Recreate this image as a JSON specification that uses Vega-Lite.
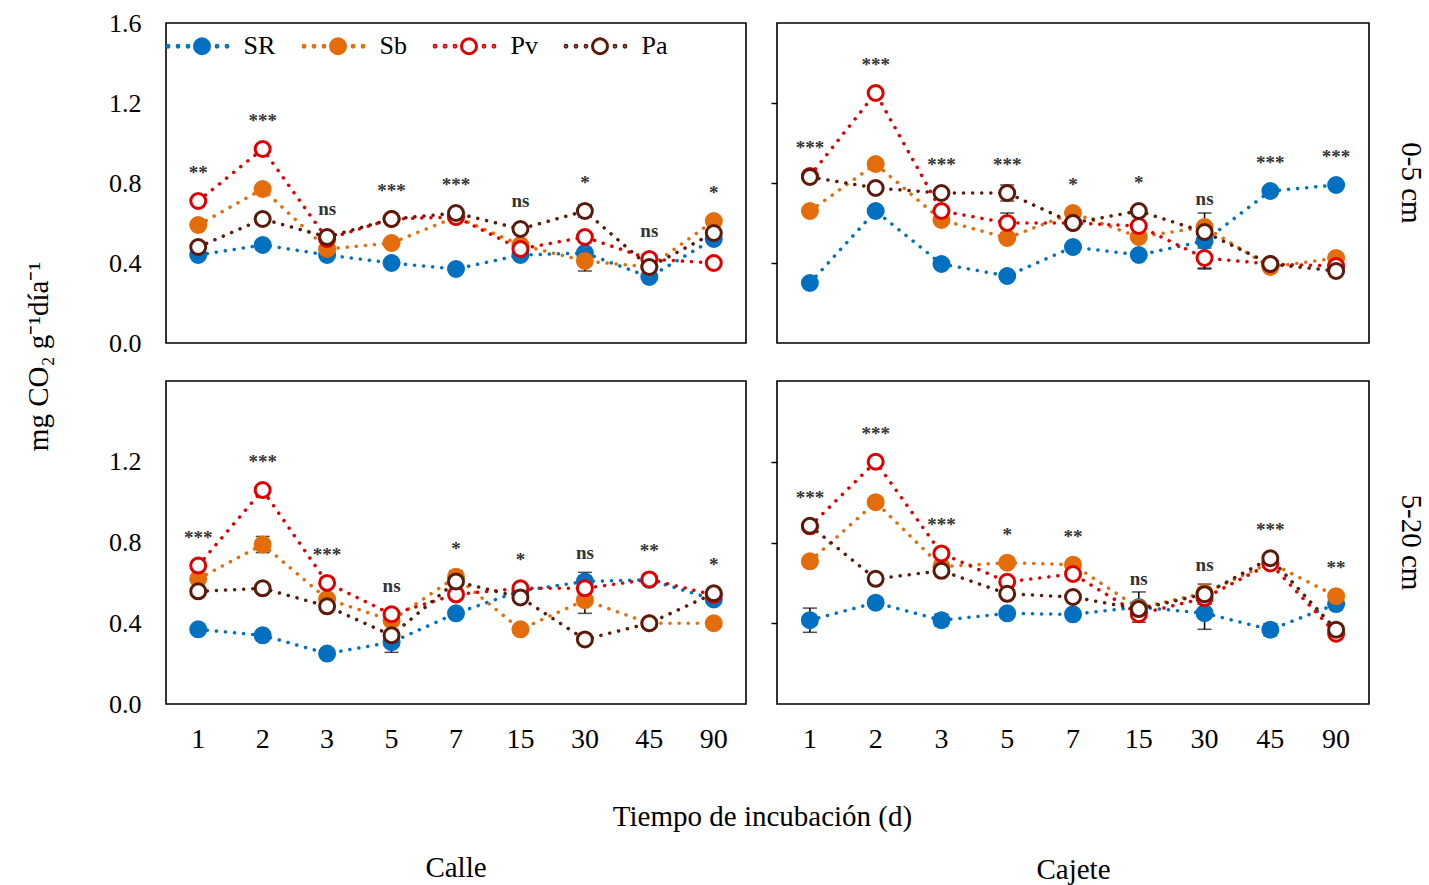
{
  "$schema": "https://vega.github.io/schema/vega-lite/v6.json",
  "padding": {"left": 23, "top": 9, "right": 2, "bottom": 2},
  "background": "white",
  "datasets": {
    "calle05": [
      {"day":1,"series":"SR","value":0.44,"err":0,"sig":"**"},{"day":1,"series":"Sb","value":0.59,"err":0,"sig":"**"},{"day":1,"series":"Pv","value":0.71,"err":0,"sig":"**"},{"day":1,"series":"Pa","value":0.48,"err":0,"sig":"**"},
      {"day":2,"series":"SR","value":0.49,"err":0,"sig":"***"},{"day":2,"series":"Sb","value":0.77,"err":0,"sig":"***"},{"day":2,"series":"Pv","value":0.97,"err":0,"sig":"***"},{"day":2,"series":"Pa","value":0.62,"err":0,"sig":"***"},
      {"day":3,"series":"SR","value":0.44,"err":0,"sig":"ns"},{"day":3,"series":"Sb","value":0.47,"err":0,"sig":"ns"},{"day":3,"series":"Pv","value":0.52,"err":0,"sig":"ns"},{"day":3,"series":"Pa","value":0.53,"err":0,"sig":"ns"},
      {"day":5,"series":"SR","value":0.40,"err":0,"sig":"***"},{"day":5,"series":"Sb","value":0.50,"err":0,"sig":"***"},{"day":5,"series":"Pv","value":0.62,"err":0,"sig":"***"},{"day":5,"series":"Pa","value":0.62,"err":0,"sig":"***"},
      {"day":7,"series":"SR","value":0.37,"err":0,"sig":"***"},{"day":7,"series":"Sb","value":0.63,"err":0,"sig":"***"},{"day":7,"series":"Pv","value":0.63,"err":0,"sig":"***"},{"day":7,"series":"Pa","value":0.65,"err":0,"sig":"***"},
      {"day":15,"series":"SR","value":0.44,"err":0,"sig":"ns"},{"day":15,"series":"Sb","value":0.49,"err":0,"sig":"ns"},{"day":15,"series":"Pv","value":0.47,"err":0,"sig":"ns"},{"day":15,"series":"Pa","value":0.57,"err":0,"sig":"ns"},
      {"day":30,"series":"SR","value":0.45,"err":0,"sig":"*"},{"day":30,"series":"Sb","value":0.41,"err":0.05,"sig":"*"},{"day":30,"series":"Pv","value":0.53,"err":0,"sig":"*"},{"day":30,"series":"Pa","value":0.66,"err":0.03,"sig":"*"},
      {"day":45,"series":"SR","value":0.33,"err":0,"sig":"ns"},{"day":45,"series":"Sb","value":0.38,"err":0,"sig":"ns"},{"day":45,"series":"Pv","value":0.42,"err":0,"sig":"ns"},{"day":45,"series":"Pa","value":0.38,"err":0,"sig":"ns"},
      {"day":90,"series":"SR","value":0.52,"err":0,"sig":"*"},{"day":90,"series":"Sb","value":0.61,"err":0.02,"sig":"*"},{"day":90,"series":"Pv","value":0.40,"err":0,"sig":"*"},{"day":90,"series":"Pa","value":0.55,"err":0,"sig":"*"}
    ],
    "cajete05": [
      {"day":1,"series":"SR","value":0.30,"err":0,"sig":"***"},{"day":1,"series":"Sb","value":0.66,"err":0,"sig":"***"},{"day":1,"series":"Pv","value":0.835,"err":0,"sig":"***"},{"day":1,"series":"Pa","value":0.83,"err":0,"sig":"***"},
      {"day":2,"series":"SR","value":0.66,"err":0,"sig":"***"},{"day":2,"series":"Sb","value":0.895,"err":0,"sig":"***"},{"day":2,"series":"Pv","value":1.25,"err":0,"sig":"***"},{"day":2,"series":"Pa","value":0.775,"err":0,"sig":"***"},
      {"day":3,"series":"SR","value":0.395,"err":0,"sig":"***"},{"day":3,"series":"Sb","value":0.615,"err":0,"sig":"***"},{"day":3,"series":"Pv","value":0.66,"err":0,"sig":"***"},{"day":3,"series":"Pa","value":0.75,"err":0,"sig":"***"},
      {"day":5,"series":"SR","value":0.335,"err":0,"sig":"***"},{"day":5,"series":"Sb","value":0.525,"err":0,"sig":"***"},{"day":5,"series":"Pv","value":0.60,"err":0.05,"sig":"***"},{"day":5,"series":"Pa","value":0.75,"err":0.04,"sig":"***"},
      {"day":7,"series":"SR","value":0.48,"err":0,"sig":"*"},{"day":7,"series":"Sb","value":0.65,"err":0,"sig":"*"},{"day":7,"series":"Pv","value":0.60,"err":0,"sig":"*"},{"day":7,"series":"Pa","value":0.60,"err":0,"sig":"*"},
      {"day":15,"series":"SR","value":0.44,"err":0,"sig":"*"},{"day":15,"series":"Sb","value":0.53,"err":0,"sig":"*"},{"day":15,"series":"Pv","value":0.585,"err":0,"sig":"*"},{"day":15,"series":"Pa","value":0.66,"err":0,"sig":"*"},
      {"day":30,"series":"SR","value":0.51,"err":0.14,"sig":"ns"},{"day":30,"series":"Sb","value":0.58,"err":0,"sig":"ns"},{"day":30,"series":"Pv","value":0.425,"err":0.05,"sig":"ns"},{"day":30,"series":"Pa","value":0.555,"err":0,"sig":"ns"},
      {"day":45,"series":"SR","value":0.76,"err":0,"sig":"***"},{"day":45,"series":"Sb","value":0.38,"err":0,"sig":"***"},{"day":45,"series":"Pv","value":0.395,"err":0,"sig":"***"},{"day":45,"series":"Pa","value":0.395,"err":0,"sig":"***"},
      {"day":90,"series":"SR","value":0.79,"err":0,"sig":"***"},{"day":90,"series":"Sb","value":0.425,"err":0,"sig":"***"},{"day":90,"series":"Pv","value":0.385,"err":0,"sig":"***"},{"day":90,"series":"Pa","value":0.36,"err":0,"sig":"***"}
    ],
    "calle520": [
      {"day":1,"series":"SR","value":0.37,"err":0,"sig":"***"},{"day":1,"series":"Sb","value":0.62,"err":0,"sig":"***"},{"day":1,"series":"Pv","value":0.686,"err":0,"sig":"***"},{"day":1,"series":"Pa","value":0.558,"err":0,"sig":"***"},
      {"day":2,"series":"SR","value":0.34,"err":0,"sig":"***"},{"day":2,"series":"Sb","value":0.79,"err":0.04,"sig":"***"},{"day":2,"series":"Pv","value":1.06,"err":0,"sig":"***"},{"day":2,"series":"Pa","value":0.573,"err":0,"sig":"***"},
      {"day":3,"series":"SR","value":0.25,"err":0,"sig":"***"},{"day":3,"series":"Sb","value":0.52,"err":0,"sig":"***"},{"day":3,"series":"Pv","value":0.60,"err":0,"sig":"***"},{"day":3,"series":"Pa","value":0.484,"err":0,"sig":"***"},
      {"day":5,"series":"SR","value":0.306,"err":0.05,"sig":"ns"},{"day":5,"series":"Sb","value":0.414,"err":0,"sig":"ns"},{"day":5,"series":"Pv","value":0.444,"err":0,"sig":"ns"},{"day":5,"series":"Pa","value":0.34,"err":0,"sig":"ns"},
      {"day":7,"series":"SR","value":0.449,"err":0,"sig":"*"},{"day":7,"series":"Sb","value":0.63,"err":0.03,"sig":"*"},{"day":7,"series":"Pv","value":0.543,"err":0,"sig":"*"},{"day":7,"series":"Pa","value":0.607,"err":0,"sig":"*"},
      {"day":15,"series":"SR","value":0.56,"err":0,"sig":"*"},{"day":15,"series":"Sb","value":0.37,"err":0,"sig":"*"},{"day":15,"series":"Pv","value":0.573,"err":0,"sig":"*"},{"day":15,"series":"Pa","value":0.528,"err":0,"sig":"*"},
      {"day":30,"series":"SR","value":0.607,"err":0.045,"sig":"ns"},{"day":30,"series":"Sb","value":0.514,"err":0.065,"sig":"ns"},{"day":30,"series":"Pv","value":0.573,"err":0,"sig":"ns"},{"day":30,"series":"Pa","value":0.32,"err":0,"sig":"ns"},
      {"day":45,"series":"SR","value":0.615,"err":0,"sig":"**"},{"day":45,"series":"Sb","value":0.40,"err":0,"sig":"**"},{"day":45,"series":"Pv","value":0.617,"err":0,"sig":"**"},{"day":45,"series":"Pa","value":0.40,"err":0,"sig":"**"},
      {"day":90,"series":"SR","value":0.518,"err":0,"sig":"*"},{"day":90,"series":"Sb","value":0.40,"err":0.02,"sig":"*"},{"day":90,"series":"Pv","value":0.54,"err":0,"sig":"*"},{"day":90,"series":"Pa","value":0.548,"err":0,"sig":"*"}
    ],
    "cajete520": [
      {"day":1,"series":"SR","value":0.415,"err":0.06,"sig":"***"},{"day":1,"series":"Sb","value":0.707,"err":0,"sig":"***"},{"day":1,"series":"Pv","value":0.88,"err":0,"sig":"***"},{"day":1,"series":"Pa","value":0.883,"err":0,"sig":"***"},
      {"day":2,"series":"SR","value":0.502,"err":0,"sig":"***"},{"day":2,"series":"Sb","value":1.0,"err":0,"sig":"***"},{"day":2,"series":"Pv","value":1.20,"err":0,"sig":"***"},{"day":2,"series":"Pa","value":0.62,"err":0,"sig":"***"},
      {"day":3,"series":"SR","value":0.415,"err":0.03,"sig":"***"},{"day":3,"series":"Sb","value":0.68,"err":0,"sig":"***"},{"day":3,"series":"Pv","value":0.746,"err":0,"sig":"***"},{"day":3,"series":"Pa","value":0.66,"err":0,"sig":"***"},
      {"day":5,"series":"SR","value":0.449,"err":0,"sig":"*"},{"day":5,"series":"Sb","value":0.70,"err":0,"sig":"*"},{"day":5,"series":"Pv","value":0.605,"err":0,"sig":"*"},{"day":5,"series":"Pa","value":0.546,"err":0,"sig":"*"},
      {"day":7,"series":"SR","value":0.444,"err":0,"sig":"**"},{"day":7,"series":"Sb","value":0.69,"err":0,"sig":"**"},{"day":7,"series":"Pv","value":0.644,"err":0,"sig":"**"},{"day":7,"series":"Pa","value":0.53,"err":0,"sig":"**"},
      {"day":15,"series":"SR","value":0.48,"err":0.075,"sig":"ns"},{"day":15,"series":"Sb","value":0.475,"err":0,"sig":"ns"},{"day":15,"series":"Pv","value":0.445,"err":0,"sig":"ns"},{"day":15,"series":"Pa","value":0.47,"err":0,"sig":"ns"},
      {"day":30,"series":"SR","value":0.45,"err":0.08,"sig":"ns"},{"day":30,"series":"Sb","value":0.55,"err":0,"sig":"ns"},{"day":30,"series":"Pv","value":0.525,"err":0,"sig":"ns"},{"day":30,"series":"Pa","value":0.544,"err":0.05,"sig":"ns"},
      {"day":45,"series":"SR","value":0.368,"err":0.03,"sig":"***"},{"day":45,"series":"Sb","value":0.70,"err":0,"sig":"***"},{"day":45,"series":"Pv","value":0.696,"err":0,"sig":"***"},{"day":45,"series":"Pa","value":0.722,"err":0,"sig":"***"},
      {"day":90,"series":"SR","value":0.495,"err":0,"sig":"**"},{"day":90,"series":"Sb","value":0.534,"err":0,"sig":"**"},{"day":90,"series":"Pv","value":0.348,"err":0,"sig":"**"},{"day":90,"series":"Pa","value":0.368,"err":0,"sig":"**"}
    ]
  },
  "concat": [
    {
      "width": 580, "height": 320,
      "data": {"name": "calle05"},
      "encoding": {
        "x": {"field": "day", "type": "ordinal", "scale": {"domain": [1,2,3,5,7,15,30,45,90]}, "axis": null},
        "y": {"field": "value", "type": "quantitative", "scale": {"domain": [0, 1.6], "nice": false},
              "axis": {"values": [0, 0.4, 0.8, 1.2, 1.6], "format": ".1f", "title": "mg CO₂ g⁻¹día⁻¹", "titleX": -128, "titleY": 333, "titleAngle": -90, "titleAlign": "center", "titleBaseline": "middle", "titleFontSize": 29, "labelFontSize": 26, "labelPadding": 25, "ticks": false, "tickSize": 0, "domain": false, "labelFlush": false}}
      },
      "resolve": {"legend": {"stroke": "independent", "fill": "independent"}},
      "layer": [
        {"mark": {"type": "line", "strokeDash": [0.1, 9], "strokeCap": "round", "strokeWidth": 3.5},
         "encoding": {"stroke": {"field": "series", "type": "nominal", "scale": {"domain": ["SR","Sb","Pv","Pa"], "range": ["#0070C0","#E46C0A","#E00000","#5C1A0A"]}, "legend": null}}},
        {"transform": [{"filter": "datum.err > 0"}],
         "mark": {"type": "errorbar", "ticks": {"size": 14}, "color": "#000", "thickness": 1.5},
         "encoding": {"yError": {"field": "err"}}},
        {"mark": {"type": "point", "filled": true, "size": 225, "strokeWidth": 3, "opacity": 1},
         "encoding": {
           "stroke": {"field": "series", "type": "nominal", "scale": {"domain": ["SR","Sb","Pv","Pa"], "range": ["#0070C0","#E46C0A","#E00000","#5C1A0A"]},
             "legend": {"title": null, "orient": "none", "legendX": 23, "legendY": 10, "direction": "horizontal", "symbolType": "M-4.41,0A0.12,0.12,0,1,1,-4.65,0A0.12,0.12,0,1,1,-4.41,0ZM-3.08,0A0.12,0.12,0,1,1,-3.32,0A0.12,0.12,0,1,1,-3.08,0ZM-1.75,0A0.12,0.12,0,1,1,-1.99,0A0.12,0.12,0,1,1,-1.75,0ZM2.12,0A0.12,0.12,0,1,1,1.88,0A0.12,0.12,0,1,1,2.12,0ZM3.45,0A0.12,0.12,0,1,1,3.21,0A0.12,0.12,0,1,1,3.45,0ZM1,0A1,1,0,1,1,-1,0A1,1,0,1,1,1,0Z"}},
           "fill": {"field": "series", "type": "nominal", "scale": {"domain": ["SR","Sb","Pv","Pa"], "range": ["#0070C0","#E46C0A","#ffffff","#ffffff"]},
             "legend": {"title": null, "orient": "none", "legendX": 23, "legendY": 10, "direction": "horizontal", "symbolType": "M-4.41,0A0.12,0.12,0,1,1,-4.65,0A0.12,0.12,0,1,1,-4.41,0ZM-3.08,0A0.12,0.12,0,1,1,-3.32,0A0.12,0.12,0,1,1,-3.08,0ZM-1.75,0A0.12,0.12,0,1,1,-1.99,0A0.12,0.12,0,1,1,-1.75,0ZM2.12,0A0.12,0.12,0,1,1,1.88,0A0.12,0.12,0,1,1,2.12,0ZM3.45,0A0.12,0.12,0,1,1,3.21,0A0.12,0.12,0,1,1,3.45,0ZM1,0A1,1,0,1,1,-1,0A1,1,0,1,1,1,0Z"}}
         }},
        {"transform": [{"aggregate": [{"op": "max", "field": "value", "as": "value"}], "groupby": ["day", "sig"]}],
         "mark": {"type": "text", "dy": -28, "fontSize": 19, "fontWeight": "bold", "color": "#333"},
         "encoding": {"text": {"field": "sig"}}}
      ]
    },
    {
      "width": 592, "height": 320,
      "title": {"text": "0-5 cm", "orient": "right", "frame": "group", "anchor": "middle", "offset": 27},
      "data": {"name": "cajete05"},
      "encoding": {
        "x": {"field": "day", "type": "ordinal", "scale": {"domain": [1,2,3,5,7,15,30,45,90]}, "axis": null},
        "y": {"field": "value", "type": "quantitative", "scale": {"domain": [0, 1.6], "nice": false},
              "axis": {"values": [0.4, 0.8, 1.2], "labels": false, "ticks": true, "tickSize": 6, "tickWidth": 1.5, "tickColor": "#000", "domain": false, "title": null}}
      },
      "layer": [
        {"mark": {"type": "line", "strokeDash": [0.1, 9], "strokeCap": "round", "strokeWidth": 3.5},
         "encoding": {"stroke": {"field": "series", "type": "nominal", "scale": {"domain": ["SR","Sb","Pv","Pa"], "range": ["#0070C0","#E46C0A","#E00000","#5C1A0A"]}, "legend": null}}},
        {"transform": [{"filter": "datum.err > 0"}],
         "mark": {"type": "errorbar", "ticks": {"size": 14}, "color": "#000", "thickness": 1.5},
         "encoding": {"yError": {"field": "err"}}},
        {"mark": {"type": "point", "filled": true, "size": 225, "strokeWidth": 3, "opacity": 1},
         "encoding": {
           "stroke": {"field": "series", "type": "nominal", "scale": {"domain": ["SR","Sb","Pv","Pa"], "range": ["#0070C0","#E46C0A","#E00000","#5C1A0A"]}, "legend": null},
           "fill": {"field": "series", "type": "nominal", "scale": {"domain": ["SR","Sb","Pv","Pa"], "range": ["#0070C0","#E46C0A","#ffffff","#ffffff"]}, "legend": null}
         }},
        {"transform": [{"aggregate": [{"op": "max", "field": "value", "as": "value"}], "groupby": ["day", "sig"]}],
         "mark": {"type": "text", "dy": -28, "fontSize": 19, "fontWeight": "bold", "color": "#333"},
         "encoding": {"text": {"field": "sig"}}}
      ]
    },
    {
      "width": 580, "height": 323,
      "title": {"text": "Calle", "orient": "bottom", "frame": "group", "anchor": "middle", "offset": 23},
      "data": {"name": "calle520"},
      "encoding": {
        "x": {"field": "day", "type": "ordinal", "scale": {"domain": [1,2,3,5,7,15,30,45,90]},
              "axis": {"title": "Tiempo de incubación (d)", "titleX": 596, "titleY": 112, "titleAlign": "center", "titleBaseline": "middle", "titleFontSize": 29, "labelFontSize": 28, "labelPadding": 21, "labelAngle": 0, "ticks": false, "tickSize": 0, "domain": false}},
        "y": {"field": "value", "type": "quantitative", "scale": {"domain": [0, 1.6], "nice": false},
              "axis": {"values": [0, 0.4, 0.8, 1.2], "format": ".1f", "title": null, "labelFontSize": 26, "labelPadding": 25, "ticks": false, "tickSize": 0, "domain": false, "labelFlush": false}}
      },
      "layer": [
        {"mark": {"type": "line", "strokeDash": [0.1, 9], "strokeCap": "round", "strokeWidth": 3.5},
         "encoding": {"stroke": {"field": "series", "type": "nominal", "scale": {"domain": ["SR","Sb","Pv","Pa"], "range": ["#0070C0","#E46C0A","#E00000","#5C1A0A"]}, "legend": null}}},
        {"transform": [{"filter": "datum.err > 0"}],
         "mark": {"type": "errorbar", "ticks": {"size": 14}, "color": "#000", "thickness": 1.5},
         "encoding": {"yError": {"field": "err"}}},
        {"mark": {"type": "point", "filled": true, "size": 225, "strokeWidth": 3, "opacity": 1},
         "encoding": {
           "stroke": {"field": "series", "type": "nominal", "scale": {"domain": ["SR","Sb","Pv","Pa"], "range": ["#0070C0","#E46C0A","#E00000","#5C1A0A"]}, "legend": null},
           "fill": {"field": "series", "type": "nominal", "scale": {"domain": ["SR","Sb","Pv","Pa"], "range": ["#0070C0","#E46C0A","#ffffff","#ffffff"]}, "legend": null}
         }},
        {"transform": [{"aggregate": [{"op": "max", "field": "value", "as": "value"}], "groupby": ["day", "sig"]}],
         "mark": {"type": "text", "dy": -28, "fontSize": 19, "fontWeight": "bold", "color": "#333"},
         "encoding": {"text": {"field": "sig"}}}
      ]
    },
    {
      "width": 592, "height": 323,
      "title": {"text": "5-20 cm", "orient": "right", "frame": "group", "anchor": "middle", "offset": 27},
      "data": {"name": "cajete520"},
      "encoding": {
        "x": {"field": "day", "type": "ordinal", "scale": {"domain": [1,2,3,5,7,15,30,45,90]},
              "axis": {"title": "Cajete", "titleY": 165, "titleAlign": "center", "titleBaseline": "middle", "titleFontSize": 29, "labelFontSize": 28, "labelPadding": 21, "labelAngle": 0, "ticks": false, "tickSize": 0, "domain": false}},
        "y": {"field": "value", "type": "quantitative", "scale": {"domain": [0, 1.6], "nice": false},
              "axis": {"values": [0.4, 0.8, 1.2], "labels": false, "ticks": true, "tickSize": 6, "tickWidth": 1.5, "tickColor": "#000", "domain": false, "title": null}}
      },
      "layer": [
        {"mark": {"type": "line", "strokeDash": [0.1, 9], "strokeCap": "round", "strokeWidth": 3.5},
         "encoding": {"stroke": {"field": "series", "type": "nominal", "scale": {"domain": ["SR","Sb","Pv","Pa"], "range": ["#0070C0","#E46C0A","#E00000","#5C1A0A"]}, "legend": null}}},
        {"transform": [{"filter": "datum.err > 0"}],
         "mark": {"type": "errorbar", "ticks": {"size": 14}, "color": "#000", "thickness": 1.5},
         "encoding": {"yError": {"field": "err"}}},
        {"mark": {"type": "point", "filled": true, "size": 225, "strokeWidth": 3, "opacity": 1},
         "encoding": {
           "stroke": {"field": "series", "type": "nominal", "scale": {"domain": ["SR","Sb","Pv","Pa"], "range": ["#0070C0","#E46C0A","#E00000","#5C1A0A"]}, "legend": null},
           "fill": {"field": "series", "type": "nominal", "scale": {"domain": ["SR","Sb","Pv","Pa"], "range": ["#0070C0","#E46C0A","#ffffff","#ffffff"]}, "legend": null}
         }},
        {"transform": [{"aggregate": [{"op": "max", "field": "value", "as": "value"}], "groupby": ["day", "sig"]}],
         "mark": {"type": "text", "dy": -28, "fontSize": 19, "fontWeight": "bold", "color": "#333"},
         "encoding": {"text": {"field": "sig"}}}
      ]
    }
  ],
  "columns": 2,
  "spacing": {"row": 38, "column": 31},
  "bounds": "flush",
  "resolve": {"legend": {"stroke": "independent", "fill": "independent"}},
  "config": {
    "font": "Liberation Serif",
    "view": {"stroke": "#000", "strokeWidth": 1.6},
    "axis": {"labelFont": "Liberation Serif", "titleFont": "Liberation Serif", "labelColor": "#000", "titleColor": "#000", "grid": false, "titleFontWeight": "normal"},
    "title": {"font": "Liberation Serif", "fontSize": 29, "fontWeight": "normal", "color": "#000"},
    "legend": {"padding": 0, "labelFont": "Liberation Serif", "labelFontSize": 26, "labelColor": "#000", "labelOffset": 28.5, "columnPadding": 21, "symbolSize": 225, "symbolStrokeWidth": 3, "symbolOpacity": 1}
  }
}
